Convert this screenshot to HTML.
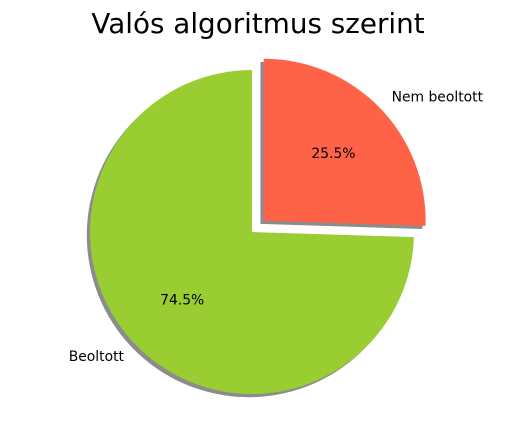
<!DOCTYPE html>
<html><head><meta charset="utf-8"><style>
body{margin:0;background:#fff;}
svg{display:block;font-family:"DejaVu Sans","Liberation Sans",sans-serif;}
</style></head><body>
<svg id="chart" width="515" height="421" viewBox="0 0 515 421">
<text x="258" y="33" text-anchor="middle" font-size="27.8" fill="#000">Valós algoritmus szerint</text>
<g id="shadows"></g>
<g id="slices"></g>
<g id="labels"></g>
</svg>
<script>
const categories = ["Beoltott", "Nem beoltott"];
const values = [74.5, 25.5];
const colors = ["#9ACD32", "#FF6347"];
const explode = [0, 0.1];

const cx = 252, cy = 232, R = 162, startAngle = 90;
const NS = "http://www.w3.org/2000/svg";
const total = values.reduce((a, b) => a + b, 0);
const gS = document.getElementById("shadows"), gW = document.getElementById("slices"), gL = document.getElementById("labels");
const pt = (x0, y0, r, a) => [x0 + r * Math.cos(a * Math.PI / 180), y0 - r * Math.sin(a * Math.PI / 180)];
function wedgePath(x0, y0, a1, a2) {
  const p1 = pt(x0, y0, R, a1), p2 = pt(x0, y0, R, a2);
  const large = (a2 - a1) > 180 ? 1 : 0;
  return `M${x0},${y0} L${p1[0]},${p1[1]} A${R},${R} 0 ${large} 0 ${p2[0]},${p2[1]} Z`;
}
let a = startAngle;
values.forEach((v, i) => {
  const sweep = v / total * 360, a2 = a + sweep, mid = (a + a2) / 2;
  const off = pt(0, 0, explode[i] * R, mid);
  const x0 = cx + off[0], y0 = cy + off[1];
  const sh = document.createElementNS(NS, "path");
  sh.setAttribute("d", wedgePath(x0 - 3.2, y0 + 3.2, a, a2));
  sh.setAttribute("fill", "#000"); sh.setAttribute("fill-opacity", "0.45");
  
  
  gS.appendChild(sh);
  const w = document.createElementNS(NS, "path");
  w.setAttribute("d", wedgePath(x0, y0, a, a2));
  w.setAttribute("fill", colors[i]);
  
  
  gW.appendChild(w);
  const lp = pt(x0, y0, R * 1.1, mid);
  const lt = document.createElementNS(NS, "text");
  lt.setAttribute("x", lp[0]); lt.setAttribute("y", lp[1] + 4.8);
  lt.setAttribute("font-size", "13.9");
  lt.setAttribute("text-anchor", Math.cos(mid * Math.PI / 180) < 0 ? "end" : "start");
  lt.textContent = categories[i];
  
  
  gL.appendChild(lt);
  const pp = pt(x0, y0, R * 0.6, mid);
  const ptx = document.createElementNS(NS, "text");
  ptx.setAttribute("x", pp[0]); ptx.setAttribute("y", pp[1] + 4.8);
  ptx.setAttribute("font-size", "13.9"); ptx.setAttribute("text-anchor", "middle");
  ptx.textContent = v.toFixed(1) + "%";
  
  
  gL.appendChild(ptx);
  a = a2;
});
</script>
</body></html>
